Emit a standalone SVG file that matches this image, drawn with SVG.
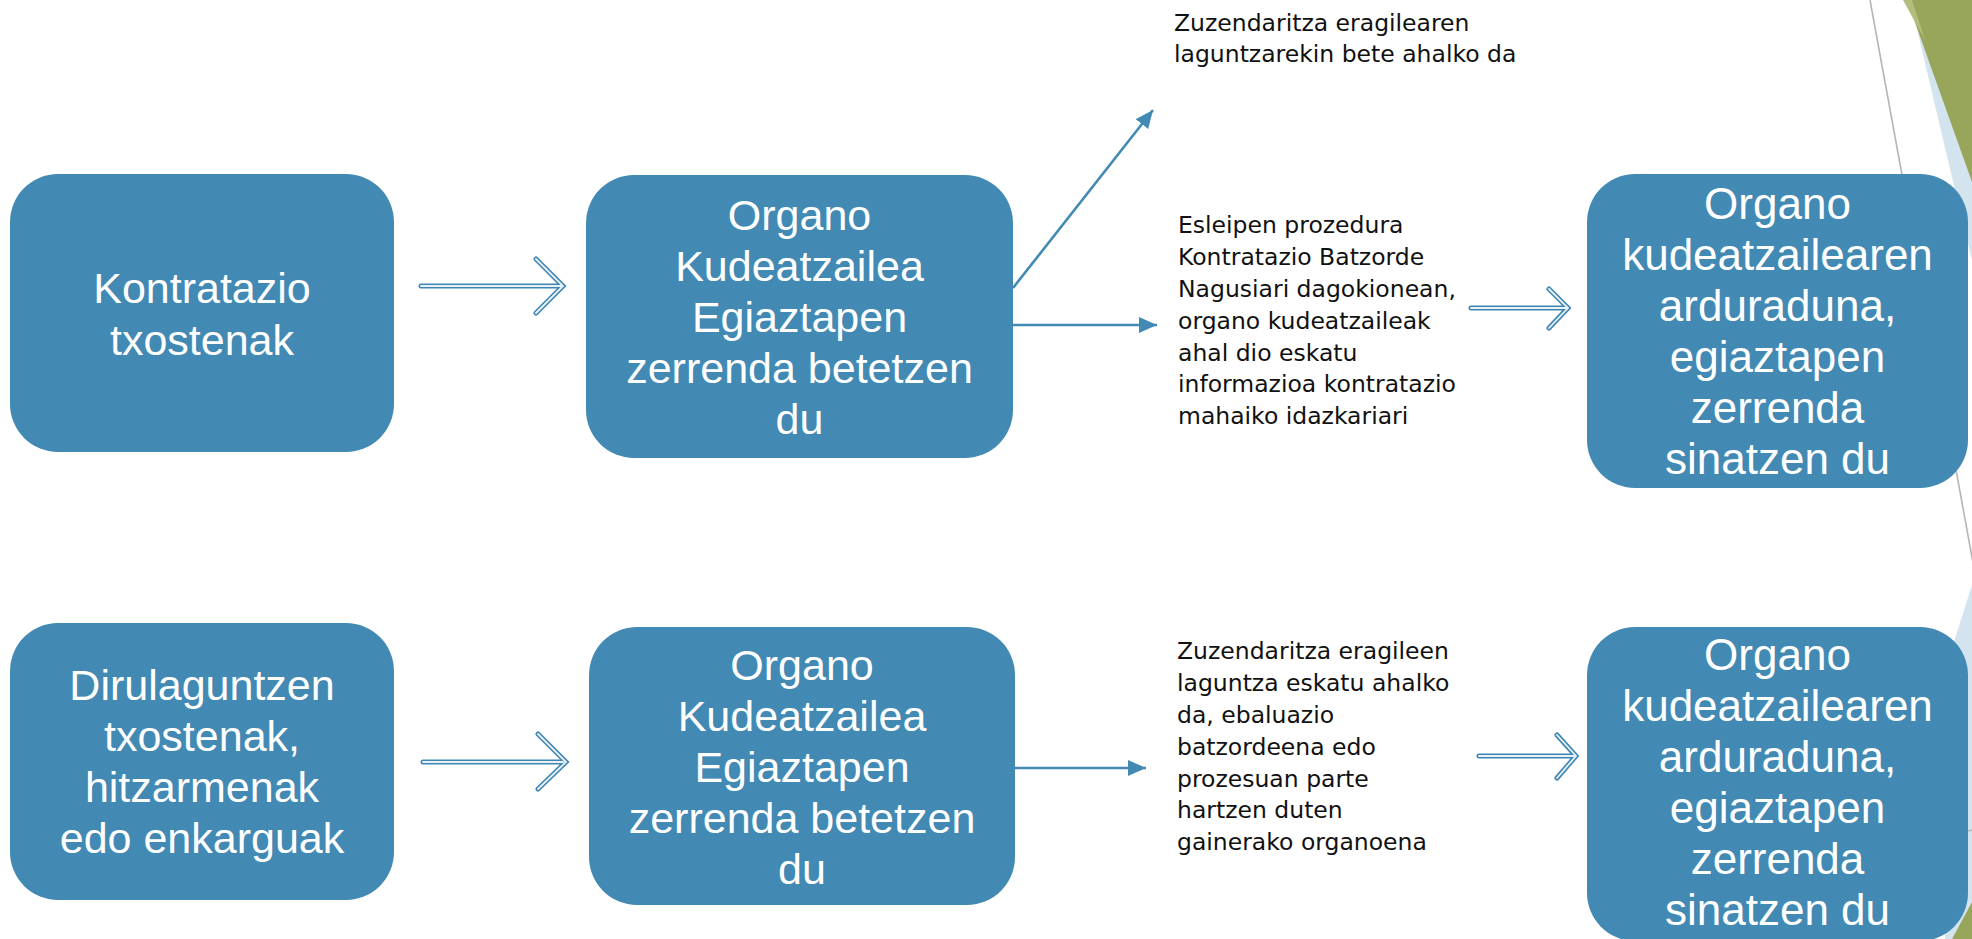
<svg xmlns="http://www.w3.org/2000/svg" width="1972" height="939" viewBox="0 0 1972 939">
<style>
.box{fill:#428AB4;}
.bt{font-family:"Liberation Sans",Arial,sans-serif;font-size:43px;fill:#ffffff;text-anchor:middle;}
.bt44{font-size:44px;}
.lbl{font-family:"DejaVu Sans",Verdana,sans-serif;font-size:23.5px;fill:#111111;}
.solid{stroke:#428AB4;stroke-width:2.6;fill:none;}
.dblo{stroke:#3F86B3;stroke-width:5;fill:none;stroke-linecap:round;stroke-linejoin:miter;}
.dbli{stroke:#EAF2F8;stroke-width:1.8;fill:none;stroke-linecap:round;stroke-linejoin:miter;}
</style>
<defs>
<marker id="tri" markerUnits="userSpaceOnUse" markerWidth="20" markerHeight="18" refX="18" refY="8" orient="auto">
<path d="M0,0 L18,8 L0,16 z" fill="#428AB4"/>
</marker>
</defs>
<rect x="0" y="0" width="1972" height="939" fill="#ffffff"/>
<g id="decor">
<polygon points="1916,25 1972,172 1972,260 1955,190" fill="#D3E4EE"/>
<polygon points="1907,0 1972,0 1972,182" fill="#98A65C"/>
<polygon points="1903,0 1912,0 1925,40" fill="#B3BD7E"/>
<line x1="1870" y1="0" x2="1978" y2="590" stroke="#B5B5B5" stroke-width="1.6"/>
<polygon points="1972,585 1945,670 1945,939 1972,939" fill="#D3E4EE"/>
<line x1="1960" y1="833" x2="1972" y2="830" stroke="#B5B5B5" stroke-width="1.4"/>
<polygon points="1952,939 1972,902 1972,939" fill="#98A65C"/>
</g>
<g id="connectors">
<path class="dblo" d="M421,286 H561 M536,259 L563,286 L536,313"/>
<path class="dbli" d="M421,286 H561 M536,259 L563,286 L536,313"/>
<path class="dblo" d="M423,762 H563 M538,734 L566,762 L538,789"/>
<path class="dbli" d="M423,762 H563 M538,734 L566,762 L538,789"/>
<path class="dblo" d="M1471,308 H1566 M1549,289 L1568,308 L1549,328"/>
<path class="dbli" d="M1471,308 H1566 M1549,289 L1568,308 L1549,328"/>
<path class="dblo" d="M1479,756 H1574 M1557,735 L1576,756 L1557,778"/>
<path class="dbli" d="M1479,756 H1574 M1557,735 L1576,756 L1557,778"/>
<line class="solid" x1="1013" y1="288" x2="1153" y2="110" marker-end="url(#tri)"/>
<line class="solid" x1="1013" y1="325" x2="1157" y2="325" marker-end="url(#tri)"/>
<line class="solid" x1="1015" y1="768" x2="1146" y2="768" marker-end="url(#tri)"/>
</g>
<g id="n1">
<rect class="box" x="10" y="174" width="384" height="278" rx="48"/>
<text class="bt" x="202" y="303">Kontratazio</text>
<text class="bt" x="202" y="355">txostenak</text>
</g>
<g id="n2">
<rect class="box" x="586" y="175" width="427" height="283" rx="48"/>
<text class="bt" x="799.5" y="230">Organo</text>
<text class="bt" x="799.5" y="281">Kudeatzailea</text>
<text class="bt" x="799.5" y="332">Egiaztapen</text>
<text class="bt" x="799.5" y="383">zerrenda betetzen</text>
<text class="bt" x="799.5" y="434">du</text>
</g>
<g id="n3">
<rect class="box" x="1587" y="174" width="381" height="314" rx="48"/>
<text class="bt bt44" x="1777.5" y="219">Organo</text>
<text class="bt bt44" x="1777.5" y="270">kudeatzailearen</text>
<text class="bt bt44" x="1777.5" y="321">arduraduna,</text>
<text class="bt bt44" x="1777.5" y="372">egiaztapen</text>
<text class="bt bt44" x="1777.5" y="423">zerrenda</text>
<text class="bt bt44" x="1777.5" y="474">sinatzen du</text>
</g>
<g id="n4">
<rect class="box" x="10" y="623" width="384" height="277" rx="48"/>
<text class="bt" x="202" y="700">Dirulaguntzen</text>
<text class="bt" x="202" y="751">txostenak,</text>
<text class="bt" x="202" y="802">hitzarmenak</text>
<text class="bt" x="202" y="853">edo enkarguak</text>
</g>
<g id="n5">
<rect class="box" x="589" y="627" width="426" height="278" rx="48"/>
<text class="bt" x="802" y="680">Organo</text>
<text class="bt" x="802" y="731">Kudeatzailea</text>
<text class="bt" x="802" y="782">Egiaztapen</text>
<text class="bt" x="802" y="833">zerrenda betetzen</text>
<text class="bt" x="802" y="884">du</text>
</g>
<g id="n6">
<rect class="box" x="1587" y="627" width="381" height="314" rx="48"/>
<text class="bt bt44" x="1777.5" y="670">Organo</text>
<text class="bt bt44" x="1777.5" y="721">kudeatzailearen</text>
<text class="bt bt44" x="1777.5" y="772">arduraduna,</text>
<text class="bt bt44" x="1777.5" y="823">egiaztapen</text>
<text class="bt bt44" x="1777.5" y="874">zerrenda</text>
<text class="bt bt44" x="1777.5" y="925">sinatzen du</text>
</g>
<g id="l1">
<text class="lbl" x="1174" y="31">Zuzendaritza eragilearen</text>
<text class="lbl" x="1174" y="62">laguntzarekin bete ahalko da</text>
</g>
<g id="l2">
<text class="lbl" x="1178" y="233">Esleipen prozedura</text>
<text class="lbl" x="1178" y="265">Kontratazio Batzorde</text>
<text class="lbl" x="1178" y="297">Nagusiari dagokionean,</text>
<text class="lbl" x="1178" y="329">organo kudeatzaileak</text>
<text class="lbl" x="1178" y="361">ahal dio eskatu</text>
<text class="lbl" x="1178" y="392">informazioa kontratazio</text>
<text class="lbl" x="1178" y="424">mahaiko idazkariari</text>
</g>
<g id="l3">
<text class="lbl" x="1177" y="659">Zuzendaritza eragileen</text>
<text class="lbl" x="1177" y="691">laguntza eskatu ahalko</text>
<text class="lbl" x="1177" y="723">da, ebaluazio</text>
<text class="lbl" x="1177" y="755">batzordeena edo</text>
<text class="lbl" x="1177" y="787">prozesuan parte</text>
<text class="lbl" x="1177" y="818">hartzen duten</text>
<text class="lbl" x="1177" y="850">gainerako organoena</text>
</g>
</svg>
